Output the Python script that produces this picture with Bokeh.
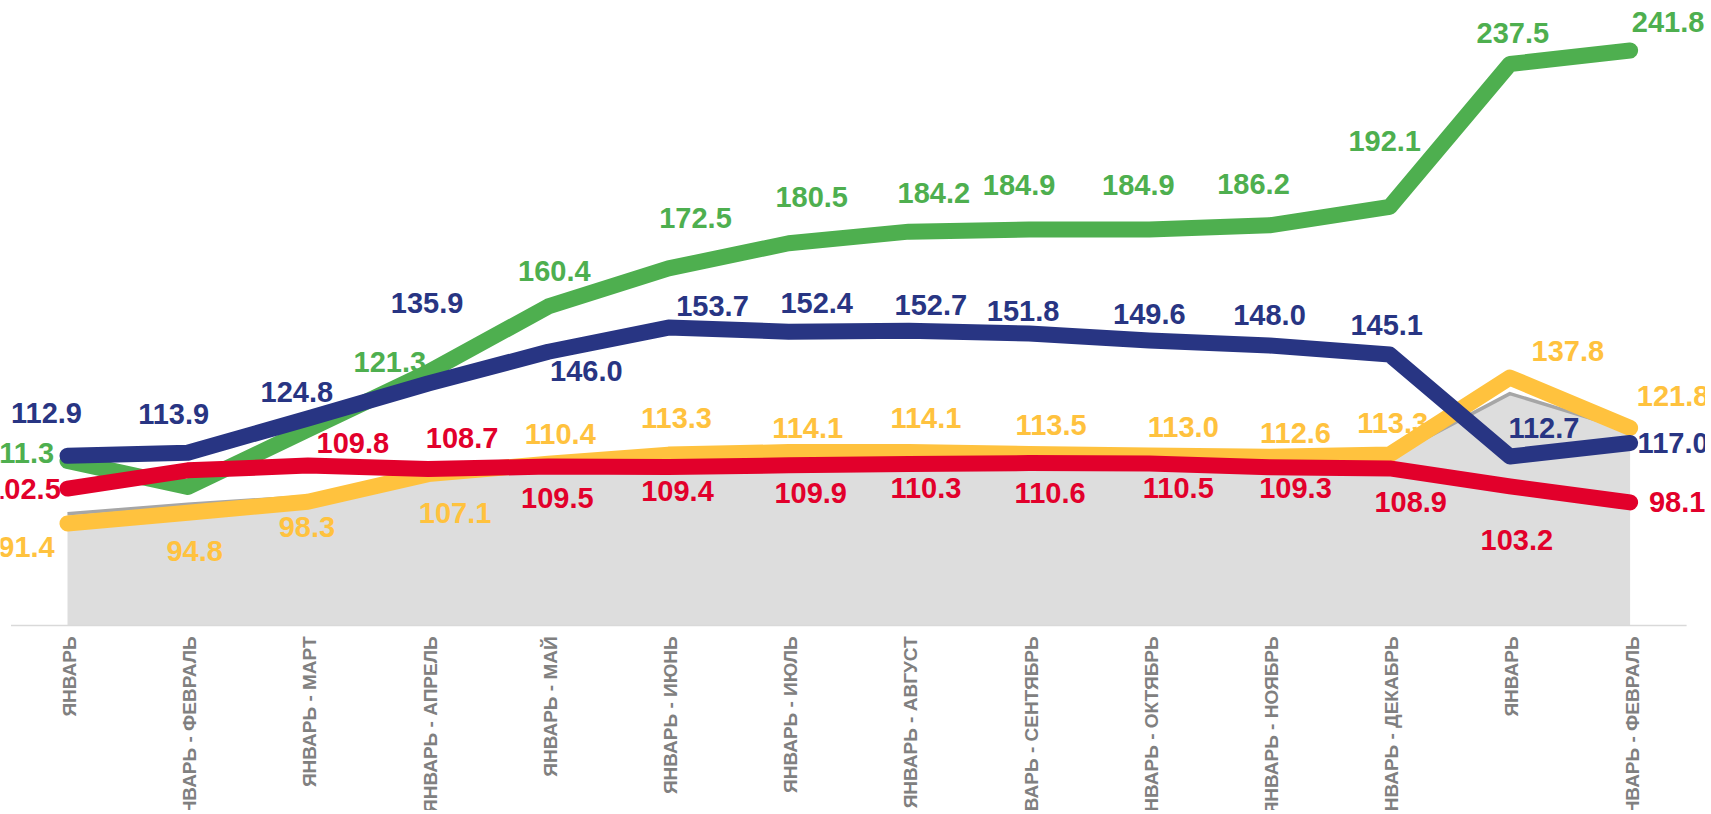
import math
from bokeh.plotting import figure
from bokeh.models import ColumnDataSource, Range1d
from bokeh.core.properties import value
from bokeh.embed import file_html
from bokeh.resources import INLINE

# ---------------- data ----------------
categories = [
    "ЯНВАРЬ", "ЯНВАРЬ - ФЕВРАЛЬ", "ЯНВАРЬ - МАРТ", "ЯНВАРЬ - АПРЕЛЬ",
    "ЯНВАРЬ - МАЙ", "ЯНВАРЬ - ИЮНЬ", "ЯНВАРЬ - ИЮЛЬ", "ЯНВАРЬ - АВГУСТ",
    "ЯНВАРЬ - СЕНТЯБРЬ", "ЯНВАРЬ - ОКТЯБРЬ", "ЯНВАРЬ - НОЯБРЬ",
    "ЯНВАРЬ - ДЕКАБРЬ", "ЯНВАРЬ", "ЯНВАРЬ - ФЕВРАЛЬ",
]
green = [111.3, 103.0, 121.3, 139.5, 160.4, 172.5, 180.5, 184.2, 184.9, 184.9, 186.2, 192.1, 237.5, 241.8]
blue = [112.9, 113.9, 124.8, 135.9, 146.0, 153.7, 152.4, 152.7, 151.8, 149.6, 148.0, 145.1, 112.7, 117.0]
red = [102.5, 108.3, 109.8, 108.7, 109.5, 109.4, 109.9, 110.3, 110.6, 110.5, 109.3, 108.9, 103.2, 98.1]
yellow = [91.4, 94.8, 98.3, 107.1, 110.4, 113.3, 114.1, 114.1, 113.5, 113.0, 112.6, 113.3, 137.8, 121.8]
gray = [94.5, 97.5, 100.0, 106.5, 109.8, 112.5, 113.3, 113.3, 112.8, 112.3, 111.9, 112.5, 132.7, 121.0]
axis_base = 59.0

# which points carry a data label (a few are hidden in the original)
green_labeled = [1, 0, 1, 0, 1, 1, 1, 1, 1, 1, 1, 1, 1, 1]
red_labeled = [1, 0, 1, 1, 1, 1, 1, 1, 1, 1, 1, 1, 1, 1]
blue_labeled = [1] * 14
yellow_labeled = [1] * 14

# ---------------- label placement (screen px offsets) ----------------
green_dx = [-48, 0, 82, 0, 6, 27, 23, 25, -10, -11, -16, -5, 3, 38]
green_dy = [-8, 0, -67, 0, -35, -50, -46, -39, -44, -44, -41, -66, -31, -28]
blue_dx = [-21, -14, -11, -1, 38, 44, 28, 22, -6, 0, 0, -3, 34, 43]
blue_dy = [-43, -39, -26, -81, 19, -22, -29, -26, -23, -26, -30, -30, -28, 0]
red_dx = [-43, 0, 45, 34, 9, 9, 22, 17, 21, 29, 26, 21, 7, 47]
red_dy = [0, 0, -23, -31, 31, 24, 28, 24, 30, 25, 21, 34, 54, 0]
yellow_dx = [-41, 7, -1, 27, 12, 8, 19, 17, 22, 34, 26, 3, 58, 43]
yellow_dy = [24, 38, 25, 39, -30, -37, -24, -34, -29, -29, -24, -32, -27, -32]

C_GREEN = "#4EAF4F"
C_BLUE = "#283583"
C_RED = "#E2002B"
C_YELLOW = "#FFC23E"
C_GRAY_FILL = "#DDDDDD"
C_GRAY_LINE = "#A6A6A6"
C_AXIS_TEXT = "#808080"

FONT = "Liberation Sans"

x = list(range(len(categories)))

W, H = 1705, 810
p = figure(width=W, height=H, output_backend="svg", toolbar_location=None,
           x_range=Range1d(-0.5574, 13.6273), y_range=Range1d(0.14, 257.69),
           x_axis_location=None, y_axis_location=None, min_border=0)
p.grid.visible = False
p.outline_line_color = None
p.background_fill_color = "white"
p.border_fill_color = "white"

# grey area series
p.varea(x=x, y1=[axis_base] * len(x), y2=gray, fill_color=C_GRAY_FILL)
p.line(x, gray, line_color=C_GRAY_LINE, line_width=3.5, line_join="round")

# axis line
p.segment(x0=[-0.47], y0=[axis_base], x1=[13.47], y1=[axis_base],
          line_color="#D9D9D9", line_width=1.5)

LW = 16
for ys, col in [(yellow, C_YELLOW), (green, C_GREEN), (blue, C_BLUE), (red, C_RED)]:
    p.line(x, ys, line_color=col, line_width=LW, line_cap="round", line_join="round")


def add_labels(ys, flags, dx, dy, col):
    src = ColumnDataSource(dict(
        x=[x[i] for i in x if flags[i]],
        y=[ys[i] for i in x if flags[i]],
        t=[f"{ys[i]:.1f}" for i in x if flags[i]],
        dx=[dx[i] for i in x if flags[i]],
        dy=[dy[i] for i in x if flags[i]],
    ))
    p.text(x="x", y="y", text="t", x_offset="dx", y_offset="dy", source=src,
           text_color=col, text_font=value(FONT), text_font_style="bold",
           text_font_size="29px", text_align="center", text_baseline="middle")


add_labels(green, green_labeled, green_dx, green_dy, C_GREEN)
add_labels(blue, blue_labeled, blue_dx, blue_dy, C_BLUE)
add_labels(red, red_labeled, red_dx, red_dy, C_RED)
add_labels(yellow, yellow_labeled, yellow_dx, yellow_dy, C_YELLOW)

# category labels (rotated, hanging below the axis line)
cat_src = ColumnDataSource(dict(x=x, y=[axis_base] * len(x), t=categories))
p.text(x="x", y="y", text="t", source=cat_src, angle=math.pi / 2,
       x_offset=2, y_offset=11,
       text_color=C_AXIS_TEXT, text_font=value(FONT), text_font_style="bold",
       text_font_size="19px", text_align="right", text_baseline="middle")

open("out.html", "w").write(file_html(p, INLINE))
